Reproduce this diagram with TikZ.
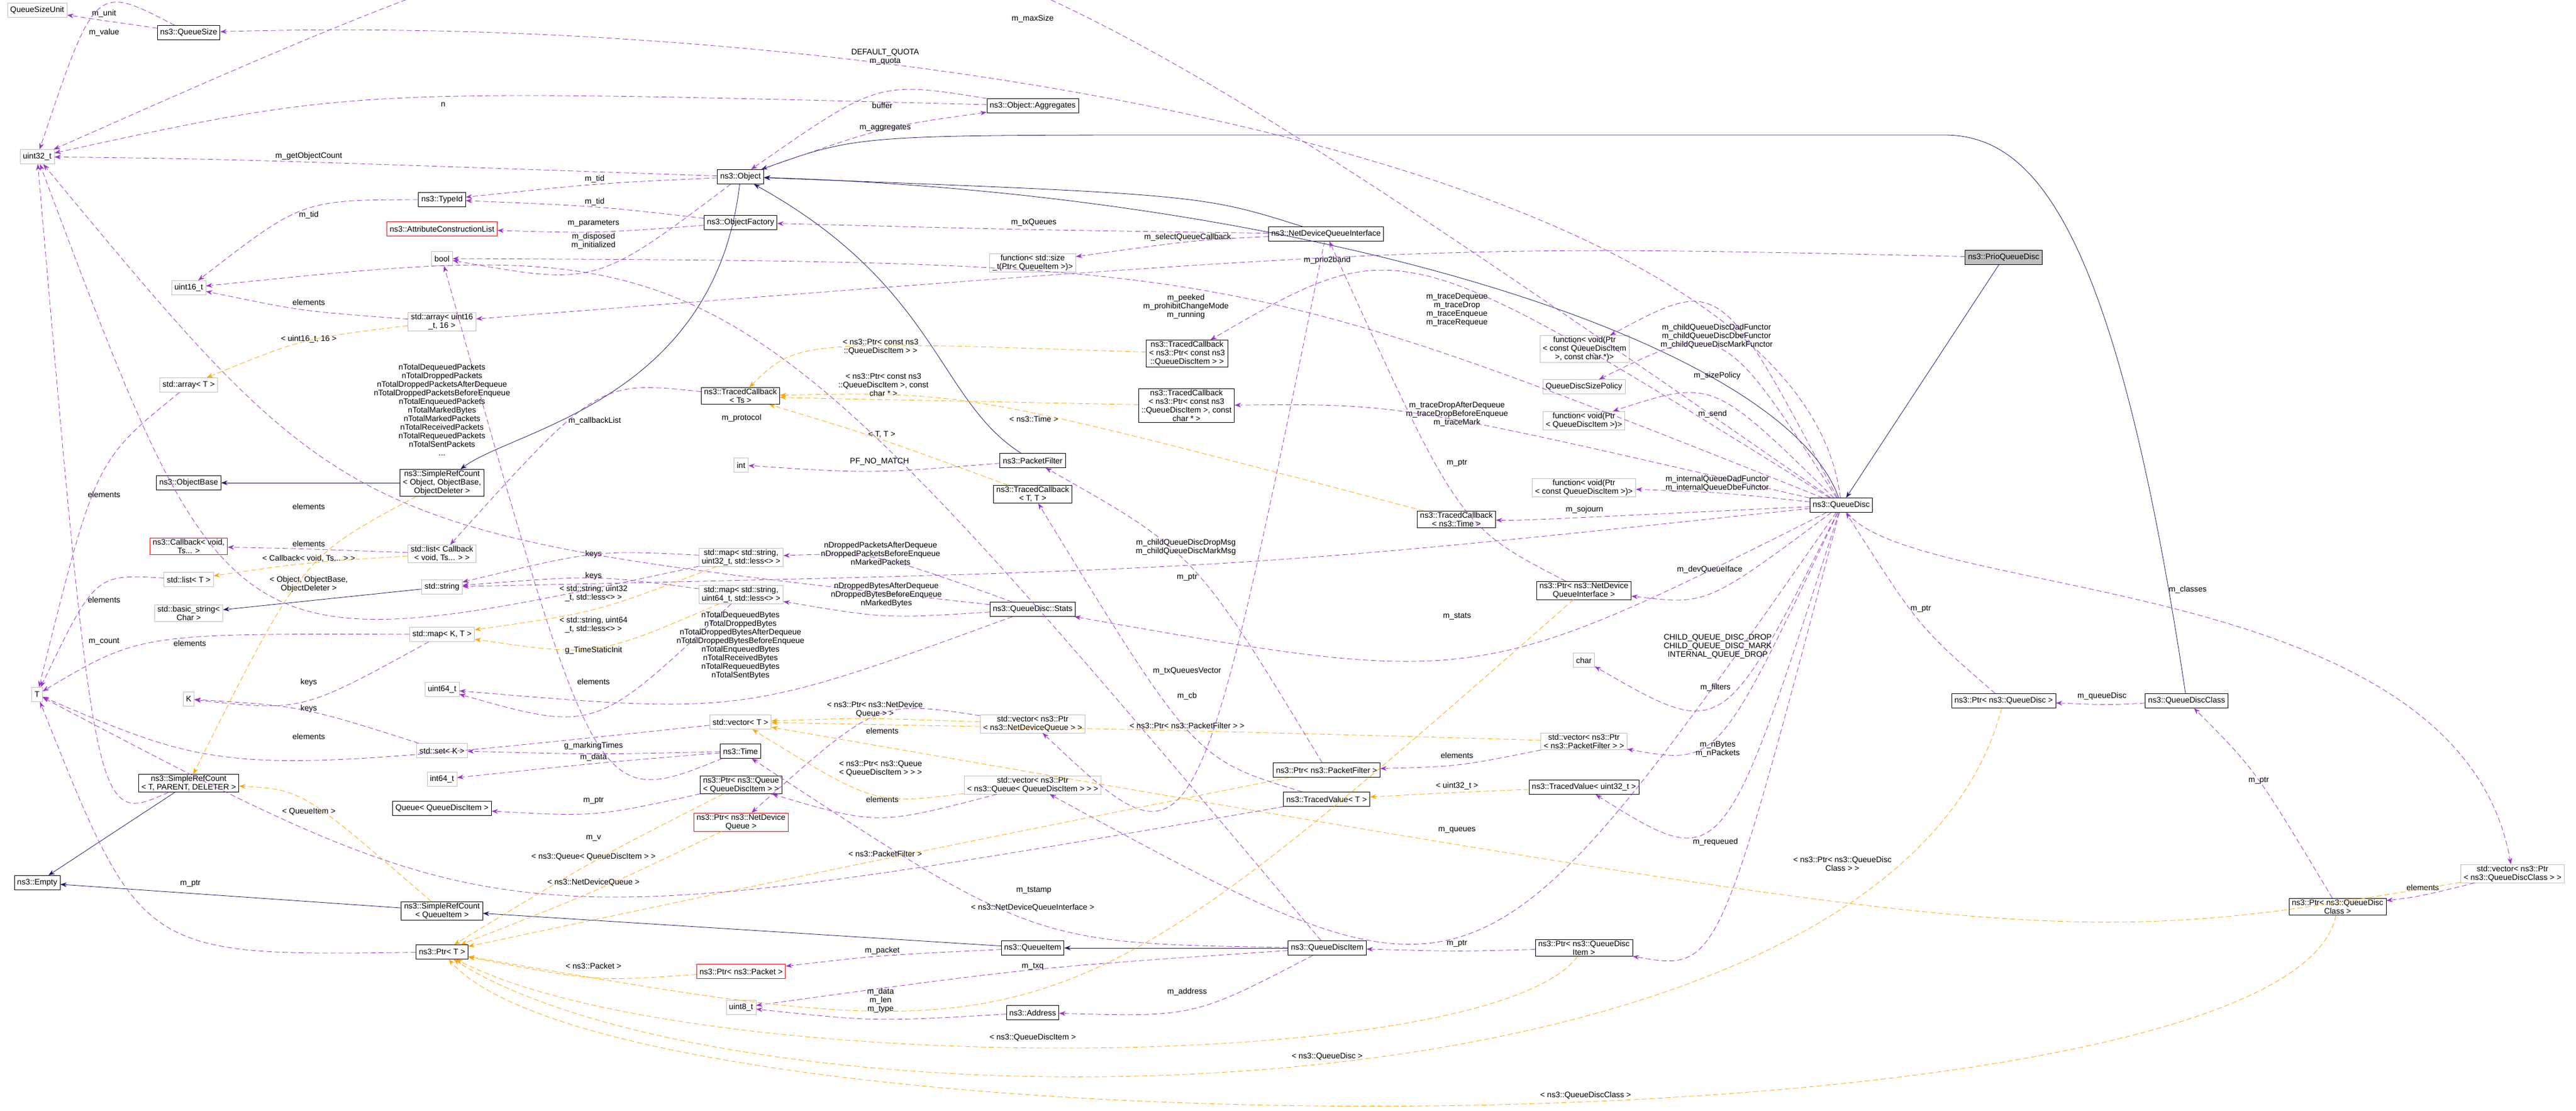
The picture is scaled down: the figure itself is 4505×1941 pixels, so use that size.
\documentclass[tikz,border=0pt]{standalone}
\usepackage{fontspec}
\setmainfont{Liberation Sans}
\usetikzlibrary{arrows.meta,calc}
\definecolor{usecol}{HTML}{9A32CD}
\definecolor{tplcol}{HTML}{FFA500}
\definecolor{inhcol}{HTML}{191970}
\definecolor{extcol}{HTML}{BFBFBF}

\tikzset{
  box/.style={draw, align=center, minimum height=25pt, inner xsep=5pt, inner ysep=2pt,
    font=\fontsize{14}{15}\selectfont},
  cls/.style={box, draw=black, thick},
  ext/.style={box, draw=extcol, thick},
  undoc/.style={box, draw=red, thick},
  lbl/.style={align=center, inner sep=1pt, font=\fontsize{14}{15}\selectfont},
  use/.style={usecol, dash pattern=on 9pt off 5pt, thick, -{Stealth[length=11pt,width=8pt]}},
  tpl/.style={tplcol, dash pattern=on 9pt off 5pt, thick, -{Stealth[length=11pt,width=8pt]}},
  inh/.style={inhcol, thick, -{Stealth[length=11pt,width=8pt]}}
}

% member edge through its label
\newcommand{\rel}[5][use]{%
  \node[lbl] (lb) at (#4) {#5};
  \draw[#1] (#2) .. controls ($2*(lb.south)-0.5*(#2)-0.5*(#3)+(0,8)$) .. (#3);}
% member edge with given controls
\newcommand{\relc}[7][use]{%
  \node[lbl] (lb) at (#6) {#7};
  \draw[#1] (#2) .. controls (#4) and (#5) .. (#3);}

\begin{document}
\begin{tikzpicture}[x=1pt,y=-1pt]

\useasboundingbox[fill=white] (0,0) rectangle (4505,1941);

% left column
\node[ext] (qsunit) at (65,18) {QueueSizeUnit};
\node[cls] (qsize) at (330,57) {ns3::QueueSize};
\node[ext] (u32) at (65,274) {uint32\_t};
\node[ext] (u16) at (330,503) {uint16\_t};
\node[ext] (arrT) at (330,673) {std::array< T >};
\node[cls] (objbase) at (330,844) {ns3::ObjectBase};
\node[undoc] (cbvoid) at (330,955) {ns3::Callback< void,\\Ts... >};
\node[ext] (listT) at (330,1013) {std::list< T >};
\node[ext] (bstring) at (330,1072) {std::basic\_string<\\Char >};
\node[ext] (T) at (65,1214) {T};
\node[ext] (K) at (330,1222) {K};
\node[cls] (srcT) at (330,1369) {ns3::SimpleRefCount\\< T, PARENT, DELETER >};
\node[cls] (empty) at (65,1543) {ns3::Empty};

% second column
\node[cls] (typeid) at (773,349) {ns3::TypeId};
\node[undoc] (attrlist) at (773,400) {ns3::AttributeConstructionList};
\node[ext] (boolt) at (773,452) {bool};
\node[ext] (arru16) at (773,562) {std::array< uint16\\\_t, 16 >};
\node[cls] (srcobj) at (773,844) {ns3::SimpleRefCount\\< Object, ObjectBase,\\ObjectDeleter >};
\node[ext] (listcb) at (773,968) {std::list< Callback\\< void, Ts... > >};
\node[ext] (string) at (773,1026) {std::string};
\node[ext] (mapKT) at (773,1109) {std::map< K, T >};
\node[ext] (u64) at (773,1205) {uint64\_t};
\node[ext] (setK) at (773,1312) {std::set< K >};
\node[ext] (i64) at (773,1362) {int64\_t};
\node[cls] (queue) at (773,1413) {Queue< QueueDiscItem >};
\node[cls] (srcqi) at (773,1592) {ns3::SimpleRefCount\\< QueueItem >};
\node[cls] (ptrT) at (773,1664) {ns3::Ptr< T >};

% third column
\node[cls] (object) at (1295,309) {ns3::Object};
\node[cls] (objfac) at (1295,389) {ns3::ObjectFactory};
\node[cls] (tcts) at (1295,692) {ns3::TracedCallback\\< Ts >};
\node[ext] (intt) at (1296,813) {int};
\node[ext] (mapu32) at (1296,974) {std::map< std::string,\\uint32\_t, std::less<> >};
\node[ext] (mapu64) at (1296,1039) {std::map< std::string,\\uint64\_t, std::less<> >};
\node[ext] (vecT) at (1295,1262) {std::vector< T >};
\node[cls] (time) at (1295,1313) {ns3::Time};
\node[cls] (ptrq) at (1296,1372) {ns3::Ptr< ns3::Queue\\< QueueDiscItem > >};
\node[undoc] (ptrndq) at (1296,1437) {ns3::Ptr< ns3::NetDevice\\Queue >};
\node[undoc] (ptrpkt) at (1296,1698) {ns3::Ptr< ns3::Packet >};
\node[ext] (u8) at (1296,1761) {uint8\_t};

% fourth column
\node[cls] (aggr) at (1806,185) {ns3::Object::Aggregates};
\node[ext] (fnsize) at (1806,459) {function< std::size\\\_t(Ptr< QueueItem >)>};
\node[cls] (pf) at (1806,805) {ns3::PacketFilter};
\node[cls] (tcTT) at (1806,864) {ns3::TracedCallback\\< T, T >};
\node[cls] (stats) at (1806,1065) {ns3::QueueDisc::Stats};
\node[ext] (vecndq) at (1806,1265) {std::vector< ns3::Ptr\\< ns3::NetDeviceQueue > >};
\node[ext] (vecq) at (1806,1372) {std::vector< ns3::Ptr\\< ns3::Queue< QueueDiscItem > > >};
\node[cls] (qitem) at (1806,1657) {ns3::QueueItem};
\node[cls] (address) at (1806,1770) {ns3::Address};

% fifth column
\node[cls] (tcqdi) at (2076,618) {ns3::TracedCallback\\< ns3::Ptr< const ns3\\::QueueDiscItem > >};
\node[cls] (tcqdichar) at (2075,709) {ns3::TracedCallback\\< ns3::Ptr< const ns3\\::QueueDiscItem >, const\\char * >};
\node[cls] (ndqi) at (2319,409) {ns3::NetDeviceQueueInterface};
\node[cls] (ptrpf) at (2320,1346) {ns3::Ptr< ns3::PacketFilter >};
\node[cls] (tvT) at (2320,1397) {ns3::TracedValue< T >};
\node[cls] (qditem) at (2321,1657) {ns3::QueueDiscItem};
\node[cls] (tctime) at (2547,908) {ns3::TracedCallback\\< ns3::Time >};

% sixth column
\node[ext] (fnchar) at (2771,610) {function< void(Ptr\\< const QueueDiscItem\\>, const char *)>};
\node[ext] (sizepol) at (2770,676) {QueueDiscSizePolicy};
\node[ext] (fnqdi) at (2770,735) {function< void(Ptr\\< QueueDiscItem >)>};
\node[ext] (fnconst) at (2770,852) {function< void(Ptr\\< const QueueDiscItem >)>};
\node[cls] (ptrndqi) at (2770,1032) {ns3::Ptr< ns3::NetDevice\\QueueInterface >};
\node[ext] (chart) at (2770,1154) {char};
\node[ext] (vecpf) at (2770,1296) {std::vector< ns3::Ptr\\< ns3::PacketFilter > >};
\node[cls] (tvu32) at (2770,1376) {ns3::TracedValue< uint32\_t >};
\node[cls] (ptrqdi) at (2770,1657) {ns3::Ptr< ns3::QueueDisc\\Item >};

% right part
\node[cls] (qdisc) at (3220,883) {ns3::QueueDisc};
\node[cls, fill=extcol] (prio) at (3504,450) {ns3::PrioQueueDisc};
\node[cls] (ptrqd) at (3504,1225) {ns3::Ptr< ns3::QueueDisc >};
\node[cls] (qdclass) at (3824,1225) {ns3::QueueDiscClass};
\node[cls] (ptrqdc) at (4088,1585) {ns3::Ptr< ns3::QueueDisc\\Class >};
\node[ext] (vecqdc) at (4394,1527) {std::vector< ns3::Ptr\\< ns3::QueueDiscClass > >};

% inheritance
\draw[inh] (prio) -- (qdisc);
\draw[inh] (qdisc) .. controls (3120,600) and (2300,340) .. (object);
\draw[inh] (ndqi) .. controls (2100,340) .. (object);
\draw[inh] (qdclass) .. controls (3700,400) and (3560,236) .. (3400,236) -- (2100,236) .. controls (1500,236) .. (object);
\draw[inh] (pf) .. controls (1640,700) and (1640,500) .. (object);
\draw[inh] (object) .. controls (1250,700) and (900,750) .. (srcobj);
\draw[inh] (srcobj) -- (objbase);
\draw[inh] (string) -- (bstring);
\draw[inh] (srcT) -- (empty);
\draw[inh] (srcqi) -- (empty);
\draw[inh] (qitem) -- (srcqi);
\draw[inh] (qditem) -- (qitem);

% members of QueueDisc
\relc{qdisc}{qsize}{3150,300}{1600,20}{1806,33}{m\_maxSize}
\rel{qdisc}{u32}{1548,100}{DEFAULT\_QUOTA\\m\_quota}
\rel{prio}{arru16}{2321,455}{m\_prio2band}
\rel{qdisc}{boolt}{2074,536}{m\_peeked\\m\_prohibitChangeMode\\m\_running}
\rel{qdisc}{tcqdi}{2548,542}{m\_traceDequeue\\m\_traceDrop\\m\_traceEnqueue\\m\_traceRequeue}
\rel{qdisc}{fnchar}{3002,588}{m\_childQueueDiscDadFunctor\\m\_childQueueDiscDbeFunctor\\m\_childQueueDiscMarkFunctor}
\rel{qdisc}{sizepol}{3003,657}{m\_sizePolicy}
\rel{qdisc}{fnqdi}{2995,724}{m\_send}
\rel{qdisc}{tcqdichar}{2548,724}{m\_traceDropAfterDequeue\\m\_traceDropBeforeEnqueue\\m\_traceMark}
\rel{qdisc}{fnconst}{3003,845}{m\_internalQueueDadFunctor\\m\_internalQueueDbeFunctor}
\rel{qdisc}{tctime}{2771,891}{m\_sojourn}
\rel{qdisc}{string}{2074,956}{m\_childQueueDiscDropMsg\\m\_childQueueDiscMarkMsg}
\rel{qdisc}{ptrndqi}{2990,996}{m\_devQueueIface}
\rel{qdisc}{stats}{2548,1077}{m\_stats}
\rel{qdisc}{chart}{3004,1130}{CHILD\_QUEUE\_DISC\_DROP\\CHILD\_QUEUE\_DISC\_MARK\\INTERNAL\_QUEUE\_DROP}
\rel{qdisc}{vecpf}{3000,1202}{m\_filters}
\rel{qdisc}{tvu32}{3004,1310}{m\_nBytes\\m\_nPackets}
\rel{qdisc}{vecq}{2548,1451}{m\_queues}
\rel{qdisc}{ptrqdi}{3000,1472}{m\_requeued}
\relc{qdisc}{vecqdc}{3350,1050}{4300,1000}{3826,1031}{m\_classes}
\rel{ptrqd}{qdisc}{3359,1064}{m\_ptr}
\rel{qdclass}{ptrqd}{3676,1217}{m\_queueDisc}
\rel{ptrqdc}{qdclass}{3950,1364}{m\_ptr}
\rel{vecqdc}{ptrqdc}{4237,1551}{elements}
\rel[tpl]{vecqdc}{vecT}{3222,1510}{< ns3::Ptr< ns3::QueueDisc\\Class > >}
\relc[tpl]{ptrqd}{ptrT}{3300,2000}{1300,2000}{2321,1847}{< ns3::QueueDisc >}
\relc[tpl]{ptrqdc}{ptrT}{4000,2030}{1100,2030}{2773,1915}{< ns3::QueueDiscClass >}
\relc[tpl]{ptrqdi}{ptrT}{2600,1884}{1200,1884}{1806,1814}{< ns3::QueueDiscItem >}

% queue items
\rel{ptrqdi}{qditem}{2548,1649}{m\_ptr}
\rel{qditem}{u8}{1806,1689}{m\_txq}
\rel{qditem}{address}{2076,1734}{m\_address}
\rel{address}{u8}{1540,1749}{m\_data\\m\_len\\m\_type}
\rel{qitem}{ptrpkt}{1543,1662}{m\_packet}
\rel[tpl]{ptrpkt}{ptrT}{1038,1688}{< ns3::Packet >}
\rel{qditem}{time}{1808,1556}{m\_tstamp}
\rel{qditem}{u16}{1297,731}{m\_protocol}

% device queue interface
\rel[tpl]{ptrndqi}{ptrT}{1806,1587}{< ns3::NetDeviceQueueInterface >}
\rel{ptrndqi}{ndqi}{2548,809}{m\_ptr}
\rel{ndqi}{objfac}{1808,389}{m\_txQueues}
\rel{ndqi}{fnsize}{2077,415}{m\_selectQueueCallback}
\rel{ndqi}{vecndq}{2076,1173}{m\_txQueuesVector}
\rel{vecndq}{ptrndq}{1543,1277}{elements}
\rel[tpl]{vecndq}{vecT}{1530,1240}{< ns3::Ptr< ns3::NetDevice\\Queue > >}
\rel{vecq}{ptrq}{1543,1397}{elements}
\rel[tpl]{vecq}{vecT}{1540,1343}{< ns3::Ptr< ns3::Queue\\< QueueDiscItem > > >}
\rel{ptrq}{queue}{1038,1399}{m\_ptr}
\rel[tpl]{ptrq}{ptrT}{1038,1498}{< ns3::Queue< QueueDiscItem > >}
\rel[tpl]{ptrndq}{ptrT}{1038,1543}{< ns3::NetDeviceQueue >}

% packet filters and traced values
\rel{vecpf}{ptrpf}{2548,1320}{elements}
\rel[tpl]{vecpf}{vecT}{2076,1268}{< ns3::Ptr< ns3::PacketFilter > >}
\rel{ptrpf}{pf}{2076,1009}{m\_ptr}
\rel[tpl]{ptrpf}{ptrT}{1548,1492}{< ns3::PacketFilter >}
\rel{pf}{intt}{1538,807}{PF\_NO\_MATCH}
\rel[tpl]{tvu32}{tvT}{2548,1374}{< uint32\_t >}
\rel{tvT}{tcTT}{2076,1217}{m\_cb}
\rel{tvT}{T}{1038,1465}{m\_v}
\rel[tpl]{tcTT}{tcts}{1542,760}{< T, T >}
\rel[tpl]{tctime}{tcts}{1808,732}{< ns3::Time >}
\rel[tpl]{tcqdi}{tcts}{1540,606}{< ns3::Ptr< const ns3\\::QueueDiscItem > >}
\rel[tpl]{tcqdichar}{tcts}{1545,673}{< ns3::Ptr< const ns3\\::QueueDiscItem >, const\\char * >}
\rel{tcts}{listcb}{1040,736}{m\_callbackList}

% object
\rel{qsize}{qsunit}{182,24}{m\_unit}
\rel{qsize}{u32}{182,57}{m\_value}
\rel{aggr}{u32}{775,183}{n}
\rel{aggr}{object}{1543,184}{buffer}
\rel{object}{aggr}{1548,223}{m\_aggregates}
\rel{object}{u32}{540,273}{m\_getObjectCount}
\rel{object}{typeid}{1040,313}{m\_tid}
\rel{objfac}{typeid}{1040,353}{m\_tid}
\rel{objfac}{attrlist}{1038,390}{m\_parameters}
\rel{object}{boolt}{1038,421}{m\_disposed\\m\_initialized}
\rel{typeid}{u16}{540,376}{m\_tid}
\rel{arru16}{u16}{540,528}{elements}
\rel[tpl]{arru16}{arrT}{540,593}{< uint16\_t, 16 >}

% time and containers
\rel{time}{boolt}{1038,1137}{g\_TimeStaticInit}
\rel{time}{setK}{1038,1304}{g\_markingTimes}
\rel{time}{i64}{1038,1324}{m\_data}
\rel{setK}{K}{540,1239}{keys}
\rel{mapKT}{K}{540,1193}{keys}
\rel{mapKT}{T}{332,1124}{elements}
\rel[tpl]{mapu32}{mapKT}{1038,1037}{< std::string, uint32\\\_t, std::less<> >}
\rel[tpl]{mapu64}{mapKT}{1038,1092}{< std::string, uint64\\\_t, std::less<> >}
\rel{mapu32}{string}{1038,969}{keys}
\rel{mapu64}{string}{1038,1007}{keys}
\rel{mapu32}{u32}{540,885}{elements}
\rel{mapu64}{u64}{1038,1191}{elements}

% stats
\rel{stats}{u32}{773,716}{nTotalDequeuedPackets\\nTotalDroppedPackets\\nTotalDroppedPacketsAfterDequeue\\nTotalDroppedPacketsBeforeEnqueue\\nTotalEnqueuedPackets\\nTotalMarkedBytes\\nTotalMarkedPackets\\nTotalReceivedPackets\\nTotalRequeuedPackets\\nTotalSentPackets\\...}
\rel{stats}{mapu32}{1540,967}{nDroppedPacketsAfterDequeue\\nDroppedPacketsBeforeEnqueue\\nMarkedPackets}
\rel{stats}{mapu64}{1550,1040}{nDroppedBytesAfterDequeue\\nDroppedBytesBeforeEnqueue\\nMarkedBytes}
\rel{stats}{u64}{1295,1128}{nTotalDequeuedBytes\\nTotalDroppedBytes\\nTotalDroppedBytesAfterDequeue\\nTotalDroppedBytesBeforeEnqueue\\nTotalEnqueuedBytes\\nTotalReceivedBytes\\nTotalRequeuedBytes\\nTotalSentBytes}

% templates and elements
\rel{listcb}{cbvoid}{540,950}{elements}
\rel[tpl]{listcb}{listT}{540,976}{< Callback< void, Ts... > >}
\rel{listT}{T}{182,1048}{elements}
\rel{arrT}{T}{182,864}{elements}
\rel{vecT}{T}{540,1287}{elements}
\rel{srcT}{u32}{182,1121}{m\_count}
\rel[tpl]{srcobj}{srcT}{540,1021}{< Object, ObjectBase,\\ObjectDeleter >}
\rel[tpl]{srcqi}{srcT}{540,1419}{< QueueItem >}
\rel{ptrT}{T}{333,1544}{m\_ptr}

\end{tikzpicture}
\end{document}
